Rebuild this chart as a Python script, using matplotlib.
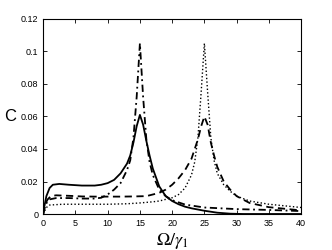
import matplotlib
matplotlib.use("Agg")
import matplotlib.pyplot as plt

plt.rcParams['font.family'] = ['Liberation Sans', 'DejaVu Sans']
plt.rcParams['mathtext.fontset'] = 'stix'

# solid: peak 0.061 at 15
x_solid = [0, 0.2, 0.5, 1, 1.5, 2.5, 4, 6, 8, 9, 10, 11, 12, 13, 13.5, 14, 14.5, 15,
           15.5, 16, 16.5, 17, 18, 19, 20, 21, 22, 23, 25, 27, 29, 31, 40]
c_solid = [0, 0.005, 0.011, 0.016, 0.018, 0.0185, 0.018, 0.0175, 0.0175, 0.018, 0.019,
           0.021, 0.025, 0.031, 0.036, 0.044, 0.054, 0.061,
           0.055, 0.045, 0.036, 0.028, 0.017, 0.011, 0.008, 0.006, 0.0045, 0.0035,
           0.002, 0.0008, 0.0002, 0.0, 0.0]

# dash-dot: peak 0.105 at 15
x_dashdot = [0, 0.3, 0.7, 1, 2, 4, 6, 8, 9, 10, 11, 12, 13, 13.5, 14, 14.5, 15,
             15.5, 16, 16.5, 17, 18, 19, 20, 22, 25, 30, 35, 40]
c_dashdot = [0, 0.005, 0.008, 0.009, 0.0098, 0.0098, 0.0095, 0.0095, 0.010, 0.012,
             0.015, 0.019, 0.027, 0.033, 0.047, 0.072, 0.105,
             0.072, 0.046, 0.032, 0.024, 0.015, 0.011, 0.0085, 0.0058, 0.004,
             0.003, 0.0025, 0.0018]

# dashed: peak 0.06 at 25
x_dashed = [0, 0.3, 0.7, 1.2, 2, 4, 6, 8, 10, 12, 14, 16, 17, 18, 19, 20, 21, 22, 23,
            24, 24.5, 25, 25.5, 26, 26.5, 27, 28, 29, 30, 32, 35, 38, 40]
c_dashed = [0, 0.006, 0.009, 0.011, 0.0115, 0.0112, 0.0108, 0.0107, 0.0107, 0.0107,
            0.0108, 0.011, 0.012, 0.013, 0.015, 0.018, 0.022, 0.027, 0.034,
            0.046, 0.054, 0.06, 0.055, 0.044, 0.036, 0.029, 0.020, 0.015, 0.011,
            0.0068, 0.0042, 0.003, 0.0022]

# dotted: peak 0.105 at 25
x_dotted = [0, 0.5, 1, 3, 6, 10, 13, 15, 17, 18, 20, 21, 22, 23, 23.5, 24, 24.5, 25,
            25.5, 26, 26.5, 27, 28, 29, 30, 32, 35, 40]
c_dotted = [0, 0.004, 0.0055, 0.006, 0.006, 0.006, 0.0063, 0.0068, 0.0075, 0.008,
            0.010, 0.012, 0.016, 0.024, 0.032, 0.047, 0.075, 0.105,
            0.075, 0.047, 0.033, 0.025, 0.018, 0.014, 0.011, 0.008, 0.006, 0.004]

fig = plt.figure(figsize=(3.32, 2.5), dpi=100)
ax = fig.add_axes([0.13, 0.144, 0.777, 0.78])

ax.plot(x_solid, c_solid, color='black', lw=1.3, ls='-')
ax.plot(x_dashdot, c_dashdot, color='black', lw=1.3, dashes=(4, 2, 1, 2))
ax.plot(x_dashed, c_dashed, color='black', lw=1.3, dashes=(4, 2.5))
ax.plot(x_dotted, c_dotted, color='black', lw=1.0, dashes=(1, 1.6))

ax.set_xlim(0, 40)
ax.set_ylim(0, 0.12)
ax.set_xticks(range(0, 41, 5))
ax.set_yticks([0, 0.02, 0.04, 0.06, 0.08, 0.1, 0.12])
ax.set_yticklabels(['0', '0.02', '0.04', '0.06', '0.08', '0.1', '0.12'])
ax.tick_params(direction='in', top=True, right=True, labelsize=6.5, length=3, width=0.6)
for s in ax.spines.values():
    s.set_linewidth(0.8)

ax.set_ylabel('C', fontsize=12, rotation=0, va='center', ha='center')
ax.yaxis.set_label_coords(-0.128, 0.5)
ax.set_xlabel(r'$\Omega/\gamma_1$', fontsize=13, labelpad=2)

fig.savefig('out.png', dpi=100)
